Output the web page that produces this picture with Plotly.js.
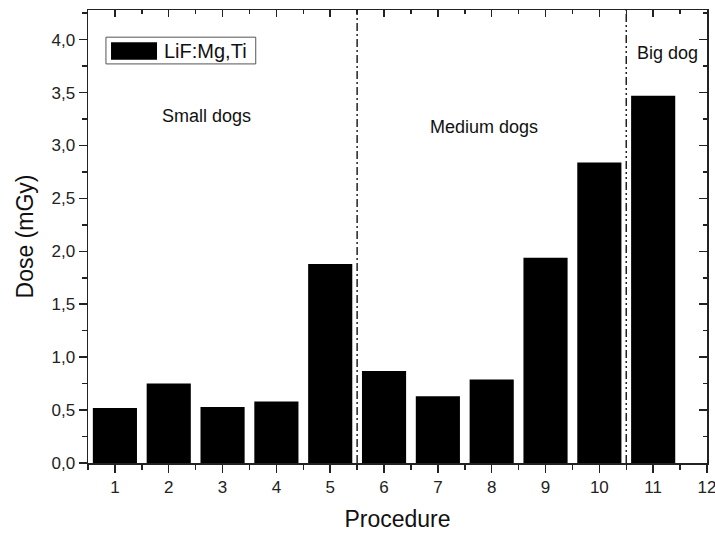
<!DOCTYPE html>
<html>
<head>
<meta charset="utf-8">
<script src="https://cdn.plot.ly/plotly-3.0.1.min.js"></script>
<style>html,body{margin:0;padding:0;background:#fff;}#chart{width:715px;height:533px;}</style>
</head>
<body>
<div id="chart"></div>
<script>
const procedures = [1, 2, 3, 4, 5, 6, 7, 8, 9, 10, 11];
const doses = [0.52, 0.75, 0.53, 0.58, 1.88, 0.87, 0.63, 0.79, 1.94, 2.84, 3.47];
const seriesName = "LiF:Mg,Ti";
const groupBoundaries = [5.5, 10.5];
const groupLabels = ["Small dogs", "Medium dogs", "Big dog"];
const xTickVals = [1, 2, 3, 4, 5, 6, 7, 8, 9, 10, 11, 12];
const xTickText = ["1", "2", "3", "4", "5", "6", "7", "8", "9", "10", "11", "12"];

const FONT = "Liberation Sans, Arial, sans-serif";
const INK = "#222222";
const xRange = [0.5, 12];
const yRange = [0, 4.28];

const traces = [
  {
    type: "bar",
    x: procedures,
    y: doses,
    name: seriesName,
    width: 0.82,
    marker: { color: "#000000", line: { color: "#000000", width: 0 } },
    showlegend: false
  },
  {
    type: "scatter",
    x: [],
    y: [],
    xaxis: "x2",
    yaxis: "y2",
    showlegend: false,
    hoverinfo: "skip"
  }
];

const layout = {
  width: 715,
  height: 533,
  margin: { l: 88, r: 8, t: 10, b: 70 },
  separators: ",.",
  paper_bgcolor: "#ffffff",
  plot_bgcolor: "#ffffff",
  font: { family: FONT, color: INK },
  showlegend: false,
  xaxis: {
    range: xRange,
    tickmode: "array",
    tickvals: xTickVals,
    ticktext: xTickText,
    ticklabeloverflow: "allow",
    ticks: "outside",
    ticklen: 8,
    tickwidth: 1.5,
    tickcolor: INK,
    minor: { dtick: 1, tick0: 0.5, ticklen: 5, tickwidth: 1.5, tickcolor: INK, ticks: "outside" },
    showgrid: false,
    zeroline: false,
    showline: true,
    linecolor: INK,
    linewidth: 1.5,
    tickfont: { family: FONT, size: 17, color: INK },
    title: { text: "Procedure", font: { family: FONT, size: 23, color: "#111111" }, standoff: 15 }
  },
  yaxis: {
    range: yRange,
    dtick: 0.5,
    tick0: 0,
    tickformat: ".1f",
    ticks: "outside",
    ticklen: 8,
    tickwidth: 1.5,
    tickcolor: INK,
    minor: { dtick: 0.25, tick0: 0, ticklen: 5, tickwidth: 1.5, tickcolor: INK, ticks: "outside" },
    showgrid: false,
    zeroline: false,
    showline: true,
    linecolor: INK,
    linewidth: 1.5,
    tickfont: { family: FONT, size: 17, color: INK },
    title: { text: "Dose (mGy)", font: { family: FONT, size: 23, color: "#111111" }, standoff: 11 }
  },
  xaxis2: {
    overlaying: "x",
    side: "top",
    anchor: "y",
    range: xRange,
    tickmode: "array",
    tickvals: xTickVals,
    ticks: "inside",
    ticklen: 7,
    tickwidth: 1.5,
    tickcolor: INK,
    minor: { dtick: 1, tick0: 0.5, ticklen: 4, tickwidth: 1.5, tickcolor: INK, ticks: "inside" },
    showticklabels: false,
    showgrid: false,
    zeroline: false,
    showline: true,
    linecolor: INK,
    linewidth: 1.5
  },
  yaxis2: {
    overlaying: "y",
    side: "right",
    anchor: "x",
    range: yRange,
    dtick: 0.5,
    tick0: 0,
    ticks: "inside",
    ticklen: 8,
    tickwidth: 1.5,
    tickcolor: INK,
    minor: { dtick: 0.25, tick0: 0, ticklen: 4, tickwidth: 1.5, tickcolor: INK, ticks: "inside" },
    showticklabels: false,
    showgrid: false,
    zeroline: false,
    showline: true,
    linecolor: INK,
    linewidth: 1.5
  },
  shapes: [
    {
      type: "line", xref: "x", yref: "paper",
      x0: groupBoundaries[0], x1: groupBoundaries[0], y0: 0, y1: 1,
      line: { color: INK, width: 1.5, dash: "8px,3px,2px,3px" }
    },
    {
      type: "line", xref: "x", yref: "paper",
      x0: groupBoundaries[1], x1: groupBoundaries[1], y0: 0, y1: 1,
      line: { color: INK, width: 1.5, dash: "8px,3px,2px,3px,2px,3px" }
    },
    {
      type: "rect", xref: "paper", yref: "paper",
      x0: 0.029, x1: 0.271, y0: 0.881, y1: 0.940,
      fillcolor: "#ffffff", line: { color: "#555555", width: 1 }
    },
    {
      type: "rect", xref: "paper", yref: "paper",
      x0: 0.0372, x1: 0.1115, y0: 0.890, y1: 0.929,
      fillcolor: "#000000", line: { color: "#000000", width: 0 }
    }
  ],
  annotations: [
    {
      text: seriesName, xref: "paper", yref: "paper", x: 0.119, y: 0.9095,
      xanchor: "left", yanchor: "middle",
      showarrow: false, font: { family: FONT, size: 20, color: "#111111" }
    },
    {
      text: groupLabels[0], xref: "x", yref: "y", x: 2.71, y: 3.28,
      showarrow: false, font: { family: FONT, size: 18, color: "#111111" }
    },
    {
      text: groupLabels[1], xref: "x", yref: "y", x: 7.85, y: 3.175,
      showarrow: false, font: { family: FONT, size: 18, color: "#111111" }
    },
    {
      text: groupLabels[2], xref: "x", yref: "y", x: 11.27, y: 3.87,
      showarrow: false, font: { family: FONT, size: 18, color: "#111111" }
    }
  ]
};

Plotly.newPlot("chart", traces, layout, { displayModeBar: false, staticPlot: true });
</script>
</body>
</html>
